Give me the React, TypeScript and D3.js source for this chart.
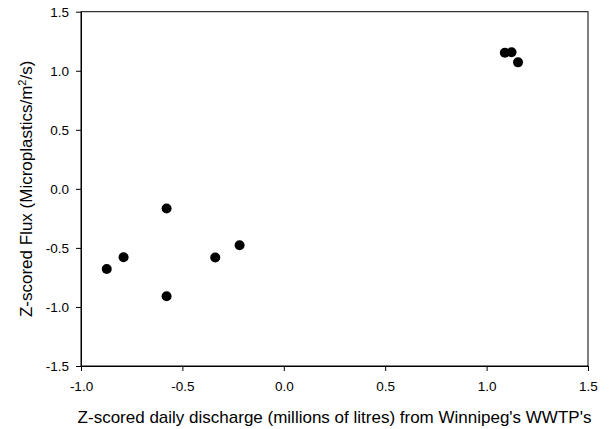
import React, { useEffect, useRef } from 'react';
import * as d3 from 'd3';

// Z-scored daily discharge vs Z-scored flux
const discharge = [-0.873, -0.790, -0.578, -0.578, -0.338, -0.218, 1.090, 1.123, 1.155];
const flux = [-0.678, -0.579, -0.166, -0.909, -0.581, -0.477, 1.153, 1.157, 1.071];
const xTicks = [-1.0, -0.5, 0.0, 0.5, 1.0, 1.5];
const yTicks = [-1.5, -1.0, -0.5, 0.0, 0.5, 1.0, 1.5];

const W = 612;
const H = 429;
const FONT = 'Arial, "Liberation Sans", sans-serif';

export default function App() {
    const svgRef = useRef<SVGSVGElement>(null);

    useEffect(() => {
        if (!svgRef.current) return;
        const root = d3.select(svgRef.current);
        root.selectAll('*').remove();

        const left = 81, right = 588, top = 11.7, bottom = 366;

        const x = d3.scaleLinear().domain([-1, 1.5]).range([left, right]);
        const y = d3.scaleLinear().domain([-1.5, 1.5]).range([bottom, top]);

        // plain hyphen, like the original
        const fmt = (d: any) => (+d).toFixed(1);

        // frame
        root.append('rect')
            .attr('x', left)
            .attr('y', top)
            .attr('width', right - left)
            .attr('height', bottom - top)
            .attr('fill', 'none')
            .attr('stroke', '#000')
            .attr('stroke-width', 1);

        // axes
        const xAxis = root.append('g')
            .attr('transform', `translate(0,${bottom})`)
            .call(d3.axisBottom(x).tickValues(xTicks).tickSize(5).tickSizeOuter(0).tickFormat(fmt));
        const yAxis = root.append('g')
            .attr('transform', `translate(${left},0)`)
            .call(d3.axisLeft(y).tickValues(yTicks).tickSize(5).tickSizeOuter(0).tickFormat(fmt));

        [xAxis, yAxis].forEach(g => {
            g.select('.domain').attr('stroke', '#000');
            g.selectAll('line').attr('stroke', '#000');
            g.selectAll('text')
                .attr('fill', '#000')
                .style('font-family', FONT)
                .style('font-size', '13.5px');
        });
        xAxis.selectAll('text').attr('dy', null).attr('y', 25);
        yAxis.selectAll('text').attr('x', -12);

        // points
        root.append('g')
            .selectAll('circle')
            .data(discharge.map((d, i) => [d, flux[i]]))
            .enter()
            .append('circle')
            .attr('cx', d => x(d[0]))
            .attr('cy', d => y(d[1]))
            .attr('r', 5)
            .attr('fill', '#000');

        // labels
        root.append('text')
            .attr('x', (left + right) / 2)
            .attr('y', 423)
            .attr('text-anchor', 'middle')
            .style('font-family', FONT)
            .style('font-size', '17px')
            .text("Z-scored daily discharge (millions of litres) from Winnipeg's WWTP's");

        const yl = root.append('text')
            .attr('transform', `translate(32,${(top + bottom) / 2}) rotate(-90)`)
            .attr('text-anchor', 'middle')
            .style('font-family', FONT)
            .style('font-size', '17px');
        yl.append('tspan').text('Z-scored Flux (Microplastics/m');
        yl.append('tspan').attr('dy', -6).style('font-size', '11px').text('2');
        yl.append('tspan').attr('dy', 6).text('/s)');
    }, []);

    return (
        <svg
            ref={svgRef}
            width={W}
            height={H}
            style={{ position: 'absolute', left: 0, top: 0, background: '#fff' }}
        />
    );
}
